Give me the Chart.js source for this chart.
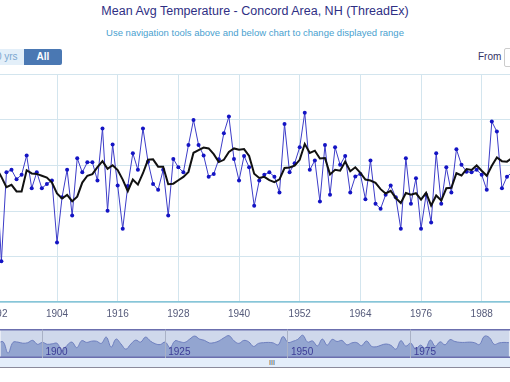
<!DOCTYPE html>
<html><head><meta charset="utf-8">
<script src="https://cdn.jsdelivr.net/npm/chart.js@4.4.1/dist/chart.umd.min.js"></script>
<style>
html,body{margin:0;padding:0;background:#fff;}
body{width:510px;height:382px;overflow:hidden;position:relative;font-family:"Liberation Sans",Arial,sans-serif;}
#title{position:absolute;left:0;top:4px;width:510px;text-align:center;font-size:12.5px;color:#2f2f84;white-space:nowrap;}
#subtitle{position:absolute;left:0;top:27px;width:510px;text-align:center;font-size:9.5px;color:#4a9fcf;white-space:nowrap;}
.btn{position:absolute;top:49px;height:16px;line-height:16px;font-size:10px;text-align:center;}
#b10{left:-16px;width:40px;background:#e3eff9;color:#7ba7d0;}
#ball{left:24px;width:38px;background:#4a78b3;color:#fff;font-weight:bold;border-radius:0 2px 2px 0;}
#from{position:absolute;left:478px;top:51px;font-size:10px;color:#333366;}
#fromBox{position:absolute;left:504px;top:48px;width:30px;height:17px;border:1px solid #cccccc;border-radius:2px;}
#main{position:absolute;left:-60px;top:70px;}
#nav{position:absolute;left:0;top:329px;}
#scroll{position:absolute;left:0;top:358px;width:510px;height:9px;background:#e4eefa;border-bottom:1.5px solid #8b8b9b;}
#grip{position:absolute;left:266px;top:0px;width:12px;text-align:center;font-size:7px;line-height:9px;color:#444;}
</style>
</head><body>
<div id="title">Mean Avg Temperature - Concord Area, NH (ThreadEx)</div>
<div id="subtitle">Use navigation tools above and below chart to change displayed range</div>
<div class="btn" id="b10">10 yrs</div>
<div class="btn" id="ball">All</div>
<div id="from">From</div>
<div id="fromBox"></div>
<canvas id="main" width="630" height="256"></canvas>
<canvas id="nav" width="510" height="29"></canvas>
<div id="scroll"><div id="grip">III</div></div>
<script>
const years = [1891,1892,1893,1894,1895,1896,1897,1898,1899,1900,
1901,1902,1903,1904,1905,1906,1907,1908,1909,1910,
1911,1912,1913,1914,1915,1916,1917,1918,1919,1920,
1921,1922,1923,1924,1925,1926,1927,1928,1929,1930,
1931,1932,1933,1934,1935,1936,1937,1938,1939,1940,
1941,1942,1943,1944,1945,1946,1947,1948,1949,1950,
1951,1952,1953,1954,1955,1956,1957,1958,1959,1960,
1961,1962,1963,1964,1965,1966,1967,1968,1969,1970,
1971,1972,1973,1974,1975,1976,1977,1978,1979,1980,
1981,1982,1983,1984,1985,1986,1987,1988,1989,1990,
1991,1992,1993,1994,1995];

const meanTemp = [45.6,45.9,41.79,45.70,45.81,45.40,45.59,46.44,45.00,45.70,
45.00,45.19,45.34,42.62,44.6,45.81,43.80,46.32,45.70,46.14,
46.14,45.34,47.63,44.01,46.92,45.12,43.22,45.1,46.54,45.81,
47.63,46.17,45.19,44.93,45.81,43.80,46.29,45.92,45.70,46.90,
48.00,46.90,46.44,45.51,45.63,46.27,47.42,48.15,46.29,45.34,
46.42,45.92,44.23,45.34,45.59,45.70,45.51,44.81,47.82,45.70,
46.10,46.80,48.32,45.81,46.22,44.42,46.90,44.71,46.80,46.03,
46.42,44.81,45.52,45.63,44.52,46.22,44.32,44.10,44.71,45.12,
44.6,43.22,46.32,44.32,45.44,43.22,44.71,43.50,46.54,44.32,
45.92,44.81,46.71,46.03,45.73,45.70,45.81,45.59,44.93,47.93,
47.49,45.00,45.51,45.7,45.6];

const movingAvg = [45.7,45.9,45.5,45.05,45.15,44.86,44.86,45.79,45.65,45.63,
45.55,45.47,45.25,44.77,44.55,44.71,44.43,44.63,45.25,45.55,
45.62,45.93,46.19,45.85,46.01,45.80,45.38,44.87,45.38,45.16,
45.66,46.25,46.27,45.95,45.95,45.18,45.20,45.35,45.50,45.72,
46.56,46.68,46.79,46.75,46.50,46.15,46.25,46.60,46.75,46.69,
46.72,46.42,45.64,45.45,45.50,45.36,45.27,45.39,45.89,45.91,
45.99,46.25,46.95,46.55,46.65,46.31,46.33,45.61,45.81,45.77,
46.17,45.75,45.92,45.68,45.38,45.34,45.24,44.96,44.77,44.89,
44.57,44.35,44.79,44.72,44.78,44.50,44.80,44.24,44.68,44.46,
45.00,45.02,45.66,45.56,45.84,45.80,46.00,45.77,45.55,45.99,
46.35,46.19,46.17,46.33,45.86];

const xTickYears = [1892,1904,1916,1928,1940,1952,1964,1976,1988,2000];
const yTickValues = [40,42,44,46,48,50];
const navTickYears = [1900,1925,1950,1975];

// view calibration (page pixels)
const MAIN_LEFT = -60, MAIN_PX_PER_YEAR = 5.056, MAIN_YEAR_AT_X0 = 1892.726;
const NAV_PX_PER_YEAR = 4.92, NAV_YEAR_AT_X0 = 1891.46;

const tempPts = years.map((y,i)=>({x:y,y:meanTemp[i]}));
const maPts = years.map((y,i)=>({x:y,y:movingAvg[i]}));

const mainChart = new Chart(document.getElementById('main'), {
  type:'line',
  data:{datasets:[
    {label:'5-yr avg', data:maPts, borderColor:'#111111', borderWidth:2, pointRadius:0, tension:0, order:0},
    {label:'Mean Avg Temp', data:tempPts, borderColor:'#3c3cc8', borderWidth:1, pointRadius:2,
     pointBackgroundColor:'#1414c4', pointBorderColor:'#1414c4', pointBorderWidth:0, tension:0, order:1}
  ]},
  options:{
    responsive:false, animation:false, events:[],
    layout:{padding:{top:4.5,left:0,right:0,bottom:0}},
    plugins:{legend:{display:false}, tooltip:{enabled:false}},
    scales:{
      x:{type:'linear', min:1880.859, max:2005.463,
         afterBuildTicks:s=>{s.ticks=xTickYears.map(v=>({value:v}));},
         afterFit:s=>{s.height=24;},
         grid:{color:'#d3e5ee', lineWidth:1, drawTicks:false},
         border:{color:'#86c6d8', width:1.5},
         ticks:{padding:6, color:'#555a7a', font:{family:'"Liberation Sans", Arial', size:10},
                callback:v=>String(v), maxRotation:0, autoSkip:false}},
      y:{type:'linear', min:40, max:50,
         afterBuildTicks:s=>{s.ticks=yTickValues.map(v=>({value:v}));},
         afterFit:s=>{s.width=0;},
         grid:{color:'#d3e5ee', lineWidth:1, drawTicks:false},
         border:{display:false},
         ticks:{display:false}}
    }
  }
});
{
  const ca = mainChart.chartArea;
  mainChart.options.scales.x.min = MAIN_YEAR_AT_X0 + (MAIN_LEFT + ca.left)/MAIN_PX_PER_YEAR;
  mainChart.options.scales.x.max = MAIN_YEAR_AT_X0 + (MAIN_LEFT + ca.right)/MAIN_PX_PER_YEAR;
  mainChart.update();
}

const navPlugin = {
  id:'navDeco',
  beforeDraw(chart){
    const {ctx, chartArea:a} = chart;
    ctx.save(); ctx.fillStyle='#cfd8eb'; ctx.fillRect(a.left,a.top,a.right-a.left,a.bottom-a.top); ctx.restore();
  },
  afterDatasetsDraw(chart){
    const ctx = chart.ctx, xs = chart.scales.x;
    ctx.save();
    ctx.font='10px "Liberation Sans", Arial'; ctx.fillStyle='#3c3c96'; ctx.textBaseline='middle';
    navTickYears.forEach(v=>ctx.fillText(String(v), xs.getPixelForValue(v)+3, 23.5));
    ctx.strokeStyle='#6b6fae'; ctx.lineWidth=1.5;
    ctx.beginPath(); ctx.moveTo(0,0.75); ctx.lineTo(510,0.75); ctx.moveTo(0,28.25); ctx.lineTo(510,28.25); ctx.stroke();
    ctx.restore();
  }
};

const navChart = new Chart(document.getElementById('nav'), {
  type:'line',
  data:{datasets:[
    {data:tempPts, borderColor:'#6e7fbe', borderWidth:1, backgroundColor:'#93a5d0', fill:'start', pointRadius:0, tension:0.4}
  ]},
  options:{
    responsive:false, animation:false, events:[],
    layout:{padding:0},
    plugins:{legend:{display:false}, tooltip:{enabled:false}},
    scales:{
      x:{type:'linear', min:1891.46, max:1995.12,
         afterBuildTicks:s=>{s.ticks=navTickYears.map(v=>({value:v}));},
         afterFit:s=>{s.height=0;},
         grid:{color:'#a9b1c6', lineWidth:1, drawTicks:false, z:1},
         border:{display:false}, ticks:{display:false}},
      y:{type:'linear', min:40.2, max:50.4, display:true,
         afterFit:s=>{s.width=0;},
         grid:{display:false}, border:{display:false}, ticks:{display:false}}
    }
  },
  plugins:[navPlugin]
});
{
  const ca = navChart.chartArea;
  navChart.options.scales.x.min = NAV_YEAR_AT_X0 + ca.left/NAV_PX_PER_YEAR;
  navChart.options.scales.x.max = NAV_YEAR_AT_X0 + ca.right/NAV_PX_PER_YEAR;
  navChart.update();
}
</script>
</body></html>
